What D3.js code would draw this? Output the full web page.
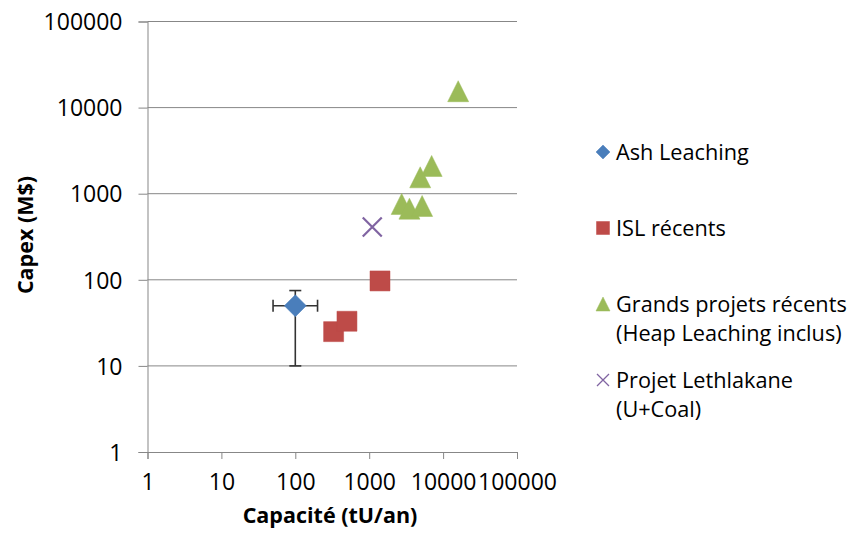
<!DOCTYPE html>
<html>
<head>
<meta charset="utf-8">
<script src="https://cdn.jsdelivr.net/npm/d3@7"></script>
<style>
  html, body { margin: 0; padding: 0; background: #fff; }
  svg { display: block; }
  text { font-family: "Open Sans", "Noto Sans", sans-serif; fill: #000; }
</style>
</head>
<body>
<svg id="chart" width="853" height="535"></svg>
<script>
// Capacity (tU/an) vs Capex (M$), both on log scales
const ashLeaching = [{ x: 100, y: 50 }];
const ashErrX = [50, 200];   // capacity range
const ashErrY = [10, 75];    // capex range

const islRecents = [
  { x: 330, y: 25 },
  { x: 500, y: 33 },
  { x: 1400, y: 97 }
];

const grandsProjets = [
  { x: 16000, y: 15500 },
  { x: 7000, y: 2100 },
  { x: 4900, y: 1550 },
  { x: 2750, y: 760 },
  { x: 3500, y: 670 },
  { x: 5200, y: 720 }
];

const lethlakane = [{ x: 1100, y: 410 }];

const xTicks = [1, 10, 100, 1000, 10000, 100000];
const yTicks = [1, 10, 100, 1000, 10000, 100000];

const legendItems = [
  { lines: ["Ash Leaching"], shape: "diamond", color: "#4A7EBB" },
  { lines: ["ISL récents"], shape: "square", color: "#BE4B48" },
  { lines: ["Grands projets récents", "(Heap Leaching inclus)"], shape: "triangle", color: "#9BBB59" },
  { lines: ["Projet Lethlakane", "(U+Coal)"], shape: "cross", color: "#8064A2" }
];

const svg = d3.select("#chart");
const plot = { left: 147.5, right: 517, top: 21.5, bottom: 452 };

const x = d3.scaleLog().domain([1, 100000]).range([plot.left, plot.right]);
const y = d3.scaleLog().domain([1, 100000]).range([plot.bottom, plot.top]);

const gridColor = "#878787";

// horizontal gridlines
svg.append("g")
  .selectAll("line")
  .data(yTicks.slice(1))
  .join("line")
  .attr("x1", plot.left).attr("x2", plot.right)
  .attr("y1", d => y(d)).attr("y2", d => y(d))
  .attr("stroke", gridColor).attr("stroke-width", 1);

// y axis
const yAxis = svg.append("g")
  .attr("transform", `translate(${plot.left},0)`)
  .call(d3.axisLeft(y).tickValues(yTicks).tickFormat(d3.format("d")).tickSize(9).tickPadding(16));
yAxis.select(".domain").attr("stroke", gridColor);
yAxis.selectAll(".tick line").attr("stroke", gridColor);
yAxis.selectAll(".tick text")
  .style("font-size", "23px")
  .attr("dy", "0.36em");

// x axis
const xAxis = svg.append("g")
  .attr("transform", `translate(0,${plot.bottom})`)
  .call(d3.axisBottom(x).tickValues(xTicks).tickFormat(d3.format("d")).tickSize(7).tickPadding(15));
xAxis.select(".domain").attr("stroke", gridColor);
xAxis.selectAll(".tick line").attr("stroke", gridColor);
xAxis.selectAll(".tick text").style("font-size", "23px");

// axis titles
svg.append("text")
  .attr("x", 330)
  .attr("y", 523)
  .attr("text-anchor", "middle")
  .style("font-size", "21.5px").style("font-weight", "bold")
  .text("Capacité (tU/an)");

svg.append("text")
  .attr("transform", `translate(33,235) rotate(-90)`)
  .attr("text-anchor", "middle")
  .style("font-size", "21.5px").style("font-weight", "bold")
  .text("Capex (M$)");

// marker shapes
function shapePath(shape, s) {
  const h = s / 2;
  if (shape === "diamond") return `M0,${-h}L${h},0L0,${h}L${-h},0Z`;
  if (shape === "square") return `M${-h},${-h}H${h}V${h}H${-h}Z`;
  if (shape === "triangle") return `M0,${-h}L${h},${h}L${-h},${h}Z`;
  return `M${-h},${-h}L${h},${h}M${-h},${h}L${h},${-h}`;
}

function drawMarkers(data, shape, color, size) {
  const g = svg.append("g");
  g.selectAll("path")
    .data(data)
    .join("path")
    .attr("transform", d => `translate(${x(d.x)},${y(d.y)})`)
    .attr("d", shapePath(shape, size))
    .attr("fill", shape === "cross" ? "none" : color)
    .attr("stroke", color)
    .attr("stroke-width", shape === "cross" ? 2.2 : 0.5);
}

// error bars for Ash Leaching
const eb = svg.append("g").attr("stroke", "#333").attr("stroke-width", 1.6);
const ax = x(ashLeaching[0].x), ay = y(ashLeaching[0].y);
eb.append("line").attr("x1", ax).attr("x2", ax).attr("y1", y(ashErrY[0])).attr("y2", y(ashErrY[1]));
eb.append("line").attr("x1", ax - 6).attr("x2", ax + 6).attr("y1", y(ashErrY[0])).attr("y2", y(ashErrY[0]));
eb.append("line").attr("x1", ax - 6).attr("x2", ax + 6).attr("y1", y(ashErrY[1])).attr("y2", y(ashErrY[1]));
eb.append("line").attr("x1", x(ashErrX[0])).attr("x2", x(ashErrX[1])).attr("y1", ay).attr("y2", ay);
eb.append("line").attr("x1", x(ashErrX[0])).attr("x2", x(ashErrX[0])).attr("y1", ay - 6).attr("y2", ay + 6);
eb.append("line").attr("x1", x(ashErrX[1])).attr("x2", x(ashErrX[1])).attr("y1", ay - 6).attr("y2", ay + 6);

drawMarkers(islRecents, "square", "#BE4B48", 20);
drawMarkers(grandsProjets, "triangle", "#9BBB59", 21);
drawMarkers(lethlakane, "cross", "#8064A2", 19);
drawMarkers(ashLeaching, "diamond", "#4A7EBB", 22);

// legend
const legendRows = [152, 228, 304, 380];
const lg = svg.append("g");
legendItems.forEach((item, i) => {
  const cy = legendRows[i];
  const size = item.shape === "square" ? 13 : item.shape === "cross" ? 12 : 14;
  lg.append("path")
    .attr("transform", `translate(603,${cy})`)
    .attr("d", shapePath(item.shape, size))
    .attr("fill", item.shape === "cross" ? "none" : item.color)
    .attr("stroke", item.color)
    .attr("stroke-width", item.shape === "cross" ? 1.3 : 0.5);
  item.lines.forEach((line, j) => {
    lg.append("text")
      .attr("x", 616)
      .attr("y", cy + j * 29)
      .attr("dy", "0.35em")
      .style("font-size", "21.7px")
      .text(line);
  });
});
</script>
</body>
</html>
